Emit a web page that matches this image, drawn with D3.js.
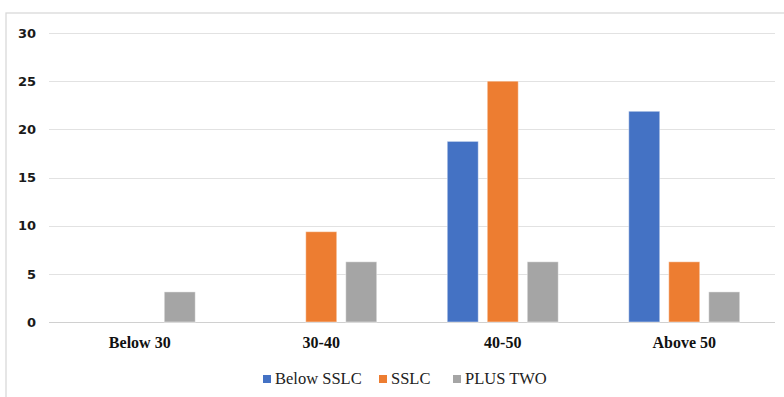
<!DOCTYPE html>
<html>
<head>
<meta charset="utf-8">
<script src="https://cdn.jsdelivr.net/npm/d3@7"></script>
<style>
  html, body { margin: 0; padding: 0; background: #fff; }
  svg { display: block; }
</style>
</head>
<body>
<svg id="chart" width="784" height="397"></svg>
<script>
// Age groups along the x axis
const categories = ["Below 30", "30-40", "40-50", "Above 50"];
// Education level series (percent of respondents)
const seriesNames = ["Below SSLC", "SSLC", "PLUS TWO"];
const belowSSLC = [0, 0, 18.75, 21.875];
const sslc = [0, 9.375, 25, 6.25];
const plusTwo = [3.125, 6.25, 6.25, 3.125];
const yTicks = [0, 5, 10, 15, 20, 25, 30];
const colors = ["#4472C4", "#ED7D31", "#A5A5A5"];

const seriesValues = [belowSSLC, sslc, plusTwo];
const rows = categories.map((c, i) => ({
  category: c,
  values: seriesNames.map((s, j) => ({ series: s, value: seriesValues[j][i], color: colors[j] }))
}));

const svg = d3.select("#chart");

// Outer chart frame
svg.append("rect")
  .attr("x", 6).attr("y", 13)
  .attr("width", 800).attr("height", 400)
  .attr("fill", "none")
  .attr("stroke", "#d9d9d9")
  .attr("stroke-width", 1.3);

const plot = { left: 49, right: 775, top: 33, bottom: 322 };

const y = d3.scaleLinear().domain([0, 30]).range([plot.bottom, plot.top]);
const x0 = d3.scaleBand().domain(categories).range([plot.left, plot.right]).padding(0);
const groupWidth = 111;
const x1 = d3.scaleBand().domain(seriesNames).range([0, groupWidth]).paddingInner(0.225).paddingOuter(0);

// Horizontal gridlines
svg.append("g")
  .selectAll("line")
  .data(yTicks)
  .join("line")
  .attr("x1", plot.left).attr("x2", plot.right)
  .attr("y1", d => Math.round(y(d)) + 0.5)
  .attr("y2", d => Math.round(y(d)) + 0.5)
  .attr("stroke", d => d === 0 ? "#d0d0d0" : "#e2e2e2")
  .attr("stroke-width", 1);

// Y axis labels
const yAxis = d3.axisLeft(y).tickValues(yTicks).tickSize(0).tickPadding(0);
const gy = svg.append("g").attr("transform", `translate(${plot.left - 13},0)`).call(yAxis);
gy.select(".domain").remove();
gy.selectAll("text")
  .attr("font-family", "'DejaVu Sans', Verdana, sans-serif")
  .attr("font-weight", "bold")
  .attr("font-size", 13)
  .attr("fill", "#1a1a1a");

// Bars
const groups = svg.append("g")
  .selectAll("g")
  .data(rows)
  .join("g")
  .attr("transform", d => `translate(${x0(d.category) + (x0.bandwidth() - groupWidth) / 2},0)`);

groups.selectAll("rect")
  .data(d => d.values.filter(v => v.value > 0))
  .join("rect")
  .attr("x", d => x1(d.series))
  .attr("width", x1.bandwidth())
  .attr("y", d => y(d.value))
  .attr("height", d => y(0) - y(d.value))
  .attr("fill", d => d.color)
  .attr("stroke", "#ffffff")
  .attr("stroke-opacity", 0.45)
  .attr("stroke-width", 1);

// X axis category labels
const xAxis = d3.axisBottom(x0).tickSize(0).tickPadding(0);
const gx = svg.append("g").attr("transform", `translate(0,${plot.bottom})`).call(xAxis);
gx.select(".domain").remove();
gx.selectAll("text")
  .attr("dy", 0)
  .attr("y", 26)
  .attr("font-family", "'Liberation Serif', 'Times New Roman', serif")
  .attr("font-weight", "bold")
  .attr("font-size", 16)
  .attr("fill", "#111");

// Legend
const legendItems = [
  { name: seriesNames[0], color: colors[0], x: 263 },
  { name: seriesNames[1], color: colors[1], x: 379 },
  { name: seriesNames[2], color: colors[2], x: 453 }
];
const lg = svg.append("g").selectAll("g").data(legendItems).join("g")
  .attr("transform", d => `translate(${d.x},375)`);
lg.append("rect").attr("width", 8).attr("height", 8).attr("fill", d => d.color);
lg.append("text")
  .attr("x", 12).attr("y", 8.5)
  .attr("font-family", "'Liberation Serif', 'Times New Roman', serif")
  .attr("font-size", 16.5)
  .attr("fill", "#222")
  .text(d => d.name);
</script>
</body>
</html>
